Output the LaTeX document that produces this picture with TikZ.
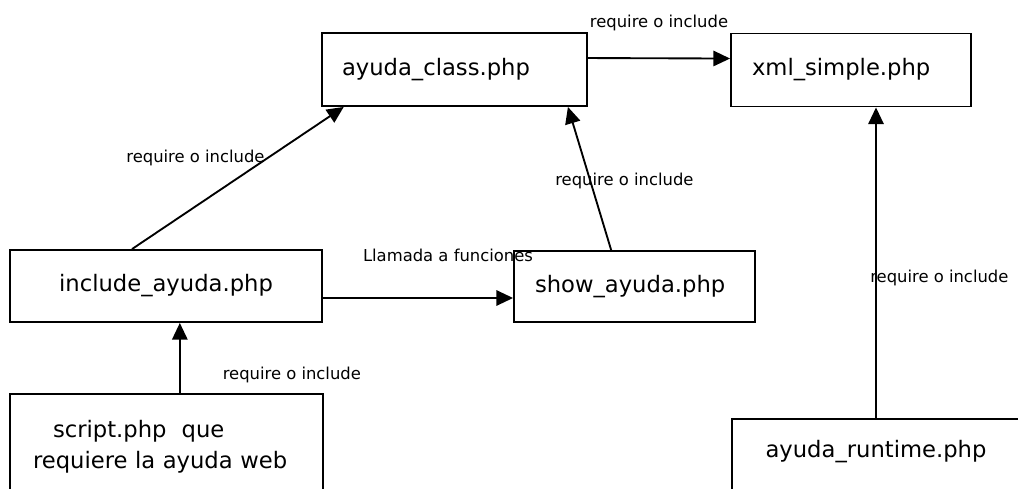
\documentclass[tikz,border=0pt]{standalone}
\usepackage{fontspec}
\setmainfont{DejaVu Sans}
\usetikzlibrary{arrows.meta}
\tikzset{
  filebox/.style={draw,line width=1.4pt,inner sep=0pt,font=\fontsize{17}{23.25}\selectfont},
  leftbox/.style={filebox,align=left,text width=#1},
  dep/.style={-{Triangle[length=12.5pt,width=11.5pt]},line width=1.4pt},
  deplbl/.style={font=\fontsize{12.3}{14}\selectfont,inner sep=1.5pt},
}
\begin{document}
\begin{tikzpicture}[x=0.75pt,y=-0.75pt]
  \clip (0,0) rectangle (1018,489);
  % files
  \node[leftbox=168.75pt,inner xsep=15pt,minimum height=54.75pt] (cls) at (454.5,69.5) {ayuda\_class.php};
  \node[leftbox=148.5pt,inner xsep=15.75pt,minimum height=54.75pt] (xml) at (851,70) {xml\_simple.php};
  \node[filebox,minimum width=234pt,minimum height=54pt] (inc) at (166,286) {include\_ayuda.php};
  \node[leftbox=149.25pt,inner xsep=15.75pt,minimum height=53.25pt] (show) at (634.5,286.5) {show\_ayuda.php};
  \node[leftbox=200.25pt,inner xsep=17.25pt,minimum height=79.5pt] (scr) at (166.5,447)
    {\hspace{15pt}script.php\ \ que\\requiere la ayuda web};
  \node[filebox,anchor=north west,minimum width=260pt,minimum height=75pt] (rt) at (731,418) {};
  \node[font=\fontsize{17}{23.25}\selectfont,inner sep=0pt] (rttxt) at (876,452) {ayuda\_runtime.php};
  % dependencies
  \draw[dep] ([yshift=8.6pt]cls.east) -- ([yshift=8.6pt]xml.west)
    node[deplbl,midway,above=18pt] {require o include};
  \draw[dep] ([xshift=-25.5pt]inc.north) -- ([xshift=17pt]cls.south west)
    node[deplbl,pos=0.64,left=0pt] {require o include};
  \draw[dep] ([xshift=-17.5pt]show.north) -- ([xshift=-15pt]cls.south east)
    node[deplbl,pos=0.48,xshift=25.5pt] {require o include};
  \draw[dep] ([yshift=-9pt]inc.east) -- ([yshift=-9pt]inc.east -| show.west)
    node[deplbl,midway,xshift=22.5pt,yshift=32pt] {Llamada a funciones};
  \draw[dep] ([xshift=10pt]scr.north) -- ([xshift=10pt]scr.north |- inc.south)
    node[deplbl,pos=0.26,anchor=west,xshift=30pt] {require o include};
  \draw[dep] (rt.north -| rttxt.north) -- (rttxt.north |- xml.south)
    node[deplbl,pos=0.45,anchor=west,xshift=-5pt,inner sep=0pt] {require o include};
\end{tikzpicture}
\end{document}
